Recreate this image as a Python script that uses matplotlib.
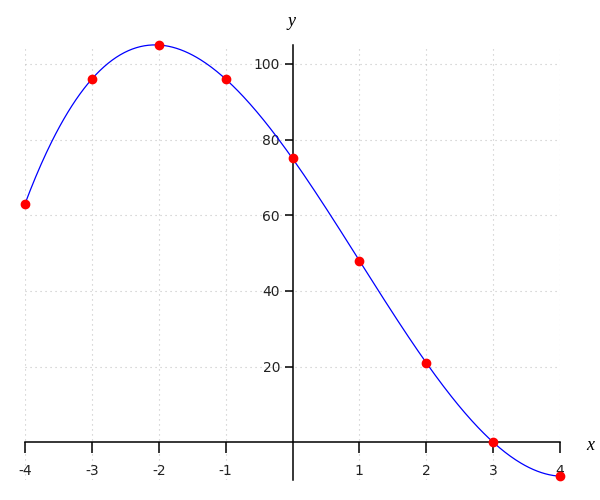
import numpy as np
import matplotlib
matplotlib.use("Agg")
import matplotlib.pyplot as plt

xs = [-4, -3, -2, -1, 0, 1, 2, 3, 4]
ys = [63, 96, 105, 96, 75, 48, 21, 0, -9]
xticks = [-4, -3, -2, -1, 1, 2, 3, 4]
yticks = [20, 40, 60, 80, 100]

fig = plt.figure(figsize=(6, 5), dpi=100)
ax = fig.add_axes([25/600, 20/500, 535/600, 435/500])

coef = np.polyfit(xs, ys, 3)
xx = np.linspace(xs[0], xs[-1], 400)
ax.plot(xx, np.polyval(coef, xx), color="blue", lw=0.9, zorder=3, clip_on=False)
ax.plot(xs, ys, "o", color="red", ms=6, zorder=4, clip_on=False)

ax.set_xlim(-4, 4)
ax.set_ylim(-10, 105)
ax.spines["left"].set_position(("data", 0))
ax.spines["bottom"].set_position(("data", 0))
ax.spines["right"].set_visible(False)
ax.spines["top"].set_visible(False)
for s in ("left", "bottom"):
    ax.spines[s].set_linewidth(1.1)
ax.set_xticks(xticks)
ax.set_xticklabels([str(t) for t in xticks])
ax.set_yticks(yticks)
ax.set_yticklabels([str(t) for t in yticks])
ax.tick_params(axis="x", direction="out", length=8, width=1.1, pad=8, labelsize=10, labelcolor="#222222")
ax.tick_params(axis="y", direction="out", length=6, width=1.1, pad=3, labelsize=10, labelcolor="#222222")
ax.grid(True, color="#c4c4c4", linestyle=(0, (1, 3.5)), lw=0.8)
ax.set_axisbelow(True)

fig.text(590/600, 1 - 445/500, "x", family="Liberation Serif", style="italic", fontsize=13, ha="center", va="center")
fig.text(292/600, 1 - 22/500, "y", family="Liberation Serif", style="italic", fontsize=13, ha="center", va="center")

fig.savefig("out.png", dpi=100)
